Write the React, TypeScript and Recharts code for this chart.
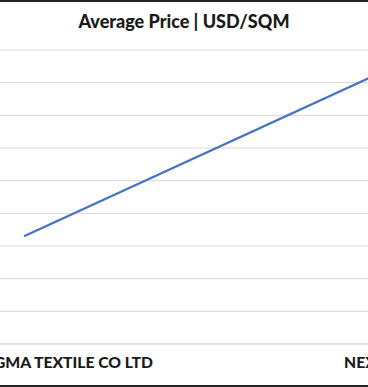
import React from 'react';
import { LineChart, Line, XAxis, YAxis, CartesianGrid } from 'recharts';

const categories = ['SIGMA TEXTILE CO LTD', 'NEXUS TEXTILE CO LTD'];
const avgPrice = [1.65, 4.36];
const yTicks = [0, 0.5, 1, 1.5, 2, 2.5, 3, 3.5, 4, 4.5];

const data = categories.map((c, i) => ({ name: c, price: avgPrice[i] }));

const FONT = 'Lato, "Open Sans", sans-serif';

const Tick = (props: any) => {
  const { x, y, payload, index } = props;
  const first = index === 0;
  return (
    <text
      x={x}
      y={y}
      dx={first ? 129 : -66}
      dy={16}
      textAnchor={first ? 'end' : 'start'}
      fontFamily={FONT}
      fontWeight={900}
      fontSize={15.7}
      fill="#1a1a1a"
    >
      {payload.value}
    </text>
  );
};

export default function App() {
  return (
    <div
      style={{
        position: 'absolute',
        left: 0,
        top: 0,
        width: 368,
        height: 387,
        overflow: 'hidden',
        background: '#fff',
      }}
    >
      <div style={{ position: 'absolute', left: 0, top: 0, width: 368, height: 2, background: '#222' }} />
      <div style={{ position: 'absolute', left: 0, top: 385, width: 368, height: 2, background: '#222' }} />
      <div
        style={{
          position: 'absolute',
          left: 0,
          top: 9,
          width: 368,
          textAlign: 'center',
          fontFamily: FONT,
          fontWeight: 900,
          fontSize: 18,
          lineHeight: '24px',
          color: '#1a1a1a',
        }}
      >
        Average Price | USD/SQM
      </div>
      <div style={{ position: 'absolute', left: -169, top: 0 }}>
        <LineChart width={772} height={387} data={data} margin={{ top: 50, right: 0, bottom: 0, left: 0 }}>
          <CartesianGrid vertical={false} stroke="#d9d9d9" />
          <XAxis
            dataKey="name"
            height={43}
            padding={{ left: 193, right: 193 }}
            axisLine={{ stroke: '#d9d9d9' }}
            tickLine={false}
            tick={<Tick />}
            interval={0}
          />
          <YAxis hide domain={[0, 4.5]} ticks={yTicks} />
          <Line
            type="linear"
            dataKey="price"
            stroke="#4472C4"
            strokeWidth={2.25}
            dot={false}
            isAnimationActive={false}
          />
        </LineChart>
      </div>
    </div>
  );
}
